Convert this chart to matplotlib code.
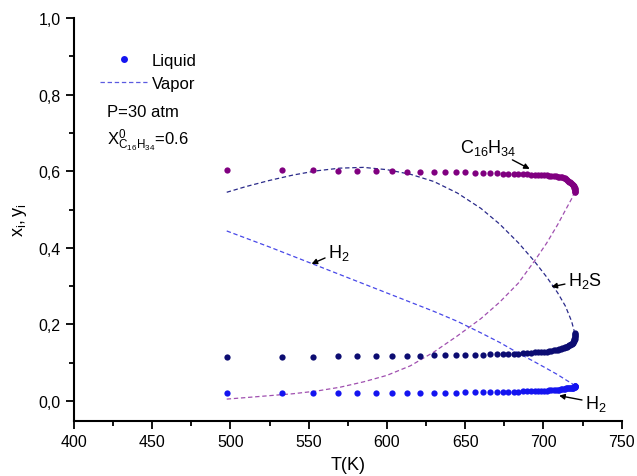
import matplotlib
matplotlib.use("Agg")
import matplotlib.pyplot as plt
from matplotlib.ticker import MultipleLocator

plt.rcParams['font.family'] = ['Liberation Sans', 'DejaVu Sans']
plt.rcParams['mathtext.fontset'] = 'custom'
plt.rcParams['mathtext.rm'] = 'Liberation Sans'
plt.rcParams['mathtext.it'] = 'Liberation Sans:italic'

# ---------------- data ----------------
T_liq = [497.6, 533, 553, 569, 581, 593, 603, 613, 621, 630, 637, 644, 650, 656,
         661.5, 666, 670, 674, 677.5, 681, 684, 687, 689.5, 692, 694.5, 696.5,
         698.5, 700.3, 702, 703.6, 705.1, 706.5, 707.8, 709, 710.1, 711.1, 712.1,
         713, 713.8, 714.6, 715.3, 716, 716.6, 717.2, 717.7, 718.2, 718.6, 719,
         719.3, 719.6, 719.8, 720, 720.1, 720.2, 720.2, 720.2, 720.1]

x_C16H34 = [0.602, 0.602, 0.602, 0.601, 0.601, 0.600, 0.600, 0.599, 0.599, 0.598,
            0.598, 0.597, 0.597, 0.596, 0.596, 0.595, 0.595, 0.594, 0.594, 0.593,
            0.593, 0.592, 0.592, 0.591, 0.591, 0.590, 0.590, 0.589, 0.589, 0.588,
            0.588, 0.587, 0.587, 0.586, 0.586, 0.585, 0.585, 0.583, 0.581, 0.579,
            0.577, 0.575, 0.573, 0.571, 0.569, 0.567, 0.565, 0.563, 0.561, 0.559,
            0.557, 0.555, 0.553, 0.551, 0.549, 0.547, 0.545]

x_H2S = [0.116, 0.116, 0.116, 0.117, 0.117, 0.117, 0.118, 0.118, 0.118, 0.119,
         0.119, 0.120, 0.120, 0.121, 0.121, 0.122, 0.122, 0.123, 0.123, 0.124,
         0.124, 0.125, 0.125, 0.126, 0.127, 0.127, 0.128, 0.129, 0.129, 0.130,
         0.131, 0.132, 0.133, 0.134, 0.136, 0.137, 0.138, 0.139, 0.140, 0.141,
         0.142, 0.144, 0.145, 0.147, 0.148, 0.150, 0.152, 0.154, 0.156, 0.158,
         0.161, 0.163, 0.166, 0.169, 0.172, 0.175, 0.177]

x_H2 = [0.021, 0.021, 0.021, 0.021, 0.021, 0.021, 0.021, 0.022, 0.022, 0.022,
        0.022, 0.022, 0.023, 0.023, 0.023, 0.023, 0.023, 0.024, 0.024, 0.024,
        0.024, 0.025, 0.025, 0.025, 0.026, 0.026, 0.026, 0.027, 0.027, 0.028,
        0.028, 0.029, 0.029, 0.030, 0.030, 0.031, 0.031, 0.032, 0.032, 0.033,
        0.033, 0.033, 0.034, 0.034, 0.034, 0.035, 0.035, 0.035, 0.036, 0.036,
        0.036, 0.037, 0.037, 0.038, 0.038, 0.039, 0.040]

T_vap = [497.6, 510, 525, 540, 555, 570, 585, 600, 615, 630, 645, 660, 672, 684,
         694, 702, 709, 714, 718, 720]

y_C16H34 = [0.005, 0.009, 0.014, 0.019, 0.026, 0.036, 0.050, 0.067, 0.092, 0.128,
            0.170, 0.215, 0.258, 0.308, 0.364, 0.412, 0.460, 0.498, 0.528, 0.547]

y_H2S = [0.545, 0.560, 0.576, 0.590, 0.601, 0.608, 0.610, 0.604, 0.592, 0.573,
         0.543, 0.503, 0.462, 0.413, 0.366, 0.324, 0.283, 0.248, 0.208, 0.177]

y_H2 = [0.444, 0.425, 0.402, 0.378, 0.354, 0.330, 0.306, 0.282, 0.258, 0.234,
        0.208, 0.178, 0.153, 0.125, 0.103, 0.085, 0.069, 0.056, 0.046, 0.040]

x_ticks = [400, 450, 500, 550, 600, 650, 700, 750]
y_ticks = [0.0, 0.2, 0.4, 0.6, 0.8, 1.0]
y_tick_labels = ['0,0', '0,2', '0,4', '0,6', '0,8', '1,0']

# ---------------- figure ----------------
fig = plt.figure(figsize=(6.37, 4.77), dpi=100)
ax = fig.add_axes([74 / 637, 1 - 421.7 / 477, 547.7 / 637, 402.7 / 477])

c_purple = '#800080'
c_navy = '#0c0c72'
c_blue = '#1414f0'

dash = (3.5, 2.2)
ax.plot(T_vap, y_C16H34, color='#a050b0', lw=0.9, dashes=dash)
ax.plot(T_vap, y_H2S, color='#2a2a8a', lw=0.9, dashes=dash)
ax.plot(T_vap, y_H2, color='#4848e8', lw=0.9, dashes=dash)

ms = 4.5
ax.plot(T_liq, x_C16H34, 'o', color=c_purple, ms=ms, mec='none')
ax.plot(T_liq, x_H2S, 'o', color=c_navy, ms=ms, mec='none')
ax.plot(T_liq, x_H2, 'o', color=c_blue, ms=ms, mec='none')

# legend
h1, = ax.plot([], [], 'o', color=c_blue, ms=5, mec='none')
h2, = ax.plot([], [], color='#5a5ae0', lw=0.9, dashes=dash)
ax.legend([h1, h2], ['Liquid', 'Vapor'], loc='upper left', frameon=False,
          bbox_to_anchor=(0.048, 0.913), borderaxespad=0, fontsize=12,
          handlelength=2.8, handletextpad=0.3, labelspacing=0.45, borderpad=0)

ax.text(421, 0.744, 'P=30 atm', fontsize=12, va='baseline', ha='left')
ax.text(421, 0.672, r'$\mathregular{X^0_{C_{16}H_{34}}}$=0.6', fontsize=12,
        va='baseline', ha='left')

arrow = dict(arrowstyle='-|>', color='black', lw=1.0, mutation_scale=8,
             shrinkA=0, shrinkB=0)
ax.annotate(r'$\mathregular{C_{16}H_{34}}$', xy=(691.2, 0.606), xytext=(646.5, 0.663),
            fontsize=13, va='center', ha='left', arrowprops=arrow)
ax.annotate(r'$\mathregular{H_2S}$', xy=(705.1, 0.298), xytext=(715.5, 0.316),
            fontsize=13, va='center', ha='left', arrowprops=arrow)
ax.annotate(r'$\mathregular{H_2}$', xy=(551.8, 0.358), xytext=(562.2, 0.389),
            fontsize=13, va='center', ha='left', arrowprops=arrow)
ax.annotate(r'$\mathregular{H_2}$', xy=(710.0, 0.014), xytext=(726.4, -0.004),
            fontsize=13, va='center', ha='left', arrowprops=arrow)

ax.set_xlim(400, 750)
ax.set_ylim(-0.0514, 1.0)
ax.set_xticks(x_ticks)
ax.set_yticks(y_ticks)
ax.set_yticklabels(y_tick_labels)
ax.xaxis.set_minor_locator(MultipleLocator(25))
ax.yaxis.set_minor_locator(MultipleLocator(0.1))
ax.tick_params(which='major', direction='out', length=6, width=1.3, labelsize=11.5)
ax.tick_params(which='minor', direction='out', length=3.5, width=1.3)
ax.spines['top'].set_visible(False)
ax.spines['right'].set_visible(False)
ax.spines['left'].set_linewidth(1.5)
ax.spines['bottom'].set_linewidth(1.5)

ax.set_xlabel('T(K)', fontsize=13, labelpad=5)
ax.set_ylabel(r'$\mathregular{x_i, y_i}$', fontsize=13, labelpad=7)

fig.savefig('out.png', dpi=100)
